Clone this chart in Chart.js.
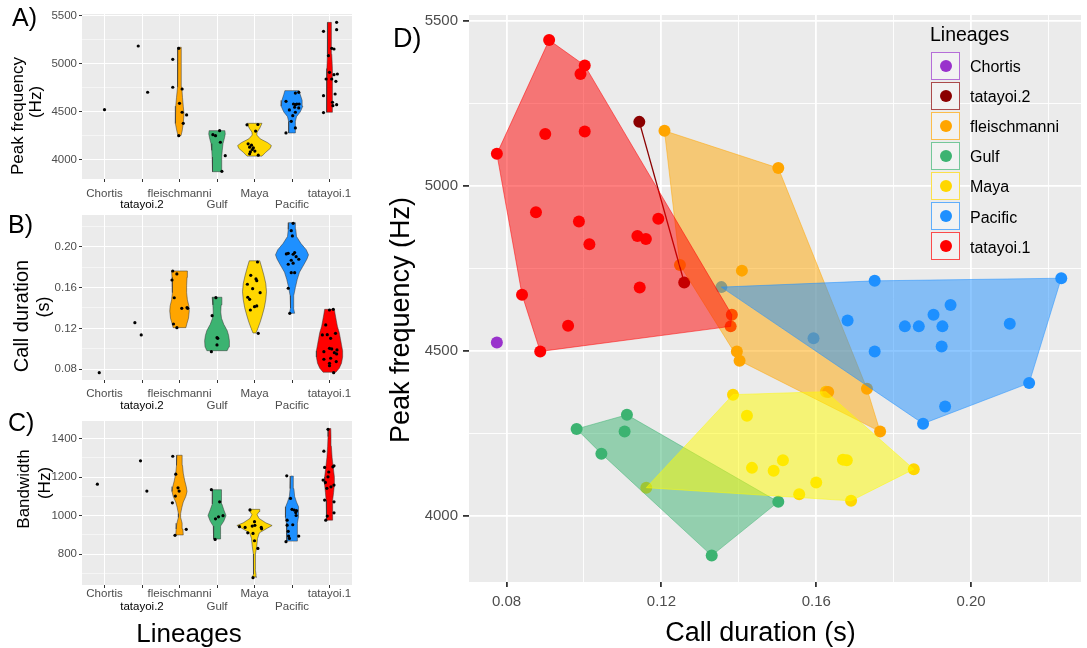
<!DOCTYPE html>
<html>
<head>
<meta charset="utf-8">
<title>Lineages – call traits</title>
<script src="https://cdn.jsdelivr.net/npm/chart.js@4.4.1/dist/chart.umd.min.js"></script>
<style>
  body { margin: 0; background: #fff; font-family: 'Liberation Sans', Arial, sans-serif; }
  #page { position: relative; width: 1087px; height: 648px; overflow: hidden; }
  canvas { position: absolute; }
  .t { position: absolute; line-height: 1; white-space: nowrap; color: #000; }
  .r { transform: translate(-50%, -50%) rotate(-90deg); }
  .c { transform: translate(-50%, -50%); }
  .key { position: absolute; box-sizing: border-box; width: 29px; height: 28px; background: #F2F2F2; border: 1.3px solid; }
  .key span { position: absolute; left: 50%; top: 50%; width: 12px; height: 12px; margin: -6px 0 0 -6px; border-radius: 50%; }
</style>
</head>
<body>
<div id="page">
  <canvas id="peakChart" width="360" height="212" style="left:0;top:0"></canvas>
  <canvas id="durChart" width="360" height="212" style="left:0;top:200px"></canvas>
  <canvas id="bwChart" width="360" height="215" style="left:0;top:400px"></canvas>
  <canvas id="scatterChart" width="717" height="648" style="left:370px;top:0"></canvas>

  <div class="t" style="left:12px;top:5px;font-size:25px">A)</div>
  <div class="t" style="left:8px;top:212px;font-size:25px">B)</div>
  <div class="t" style="left:8px;top:410px;font-size:25px">C)</div>
  <div class="t" style="left:393px;top:25px;font-size:27px">D)</div>

  <div class="t r" style="left:17px;top:116px;font-size:17px">Peak frequency</div>
  <div class="t r" style="left:34.5px;top:102px;font-size:17px">(Hz)</div>
  <div class="t r" style="left:20.5px;top:316px;font-size:20px">Call duration</div>
  <div class="t r" style="left:42.5px;top:307px;font-size:18px">(s)</div>
  <div class="t r" style="left:22.5px;top:489px;font-size:17px">Bandwidth</div>
  <div class="t r" style="left:44px;top:482.5px;font-size:17px">(Hz)</div>
  <div class="t c" style="left:189px;top:633px;font-size:26px">Lineages</div>

  <div class="t r" style="left:400px;top:320px;font-size:27px">Peak frequency (Hz)</div>
  <div class="t c" style="left:760.5px;top:632px;font-size:27px">Call duration (s)</div>

  <div id="legend"></div>
</div>

<script>
  'use strict';

  Chart.defaults.font.family = "'Liberation Sans', Arial, sans-serif";

  const LINEAGES = ['Chortis', 'tatayoi.2', 'fleischmanni', 'Gulf', 'Maya', 'Pacific', 'tatayoi.1'];
  const COLORS = ['#9932CC', '#8B0000', '#FFA500', '#3CB371', '#FFD700', '#1E90FF', '#FF0000'];
  const HULL_FILLS = [
    'rgba(153,50,204,0.5)', 'rgba(139,0,0,0.5)', 'rgba(255,165,0,0.5)', 'rgba(60,179,113,0.5)',
    'rgba(255,252,0,0.5)', 'rgba(30,144,255,0.5)', 'rgba(255,0,0,0.5)',
  ];

  // ===== A) Peak frequency (Hz) =====
  const PEAK_MAJOR = [4000, 4500, 5000, 5500];
  const PEAK_MINOR = [4250, 4750, 5250];

  // violin outlines: [value, half width in category units]
  const peakViolins = {
    fleischmanni: [[4253, 0.04], [4300, 0.07], [4380, 0.10], [4480, 0.12], [4560, 0.10], [4650, 0.08], [4760, 0.06], [4900, 0.05], [5050, 0.045], [5172, 0.045]],
    Gulf: [[3878, 0.12], [3950, 0.12], [4030, 0.13], [4100, 0.14], [4170, 0.16], [4230, 0.2], [4270, 0.22], [4305, 0.21]],
    Maya: [[4040, 0.2], [4080, 0.3], [4120, 0.42], [4150, 0.45], [4180, 0.35], [4220, 0.15], [4260, 0.06], [4290, 0.07], [4330, 0.14], [4381, 0.2]],
    Pacific: [[4281, 0.09], [4330, 0.09], [4400, 0.09], [4450, 0.12], [4500, 0.22], [4560, 0.29], [4620, 0.27], [4680, 0.22], [4721, 0.19]],
    'tatayoi.1': [[4496, 0.07], [4600, 0.08], [4750, 0.08], [4850, 0.08], [4950, 0.07], [5100, 0.06], [5250, 0.05], [5431, 0.05]],
  };

  // jittered points: [offset from category, value]
  const peakPoints = {
    Chortis: [[0, 4523]],
    'tatayoi.2': [[-0.1, 5185], [0.15, 4704]],
    fleischmanni: [[-0.18, 5047], [-0.02, 5161], [-0.18, 4756], [0.07, 4738], [0, 4589], [0.07, 4496], [0.19, 4468], [0.1, 4381], [-0.02, 4253]],
    Gulf: [[-0.11, 4263], [-0.04, 4253], [0.07, 4305], [0.09, 4184], [0.22, 4045], [0.13, 3882]],
    Maya: [[-0.2, 4365], [0.09, 4369], [0.03, 4300], [-0.17, 4168], [-0.08, 4154], [-0.13, 4133], [-0.03, 4126], [-0.06, 4109], [0.01, 4092], [-0.11, 4085], [-0.13, 4064], [0.1, 4050]],
    Pacific: [[0.09, 4696], [0.18, 4703], [-0.16, 4610], [0.04, 4582], [0.09, 4575], [0.13, 4582], [0.19, 4582], [0.07, 4548], [-0.07, 4520], [0.18, 4541], [0.09, 4496], [0.02, 4461], [-0.02, 4402], [0.09, 4333], [-0.16, 4281]],
    'tatayoi.1': [[0.19, 5431], [-0.16, 5338], [0.19, 5355], [0.06, 5161], [0.12, 5154], [-0.03, 5085], [0, 4911], [0.12, 4887], [0.21, 4894], [-0.09, 4842], [0.06, 4842], [0.17, 4818], [-0.16, 4669], [0.15, 4686], [0.19, 4575], [0.08, 4600], [0.09, 4565], [-0.16, 4493]],
  };

  // ===== B) Call duration (s) =====
  const DUR_MAJOR = [0.08, 0.12, 0.16, 0.20];
  const DUR_MINOR = [0.10, 0.14, 0.18, 0.22];

  const durViolins = {
    fleischmanni: [[0.1207, 0.17], [0.125, 0.2], [0.13, 0.24], [0.137, 0.26], [0.142, 0.25], [0.148, 0.21], [0.155, 0.19], [0.162, 0.19], [0.17, 0.2], [0.1762, 0.21]],
    Gulf: [[0.0982, 0.27], [0.102, 0.32], [0.108, 0.33], [0.113, 0.31], [0.118, 0.27], [0.124, 0.18], [0.13, 0.12], [0.136, 0.1], [0.143, 0.11], [0.1505, 0.13]],
    Maya: [[0.1155, 0.04], [0.12, 0.09], [0.126, 0.15], [0.132, 0.2], [0.14, 0.26], [0.148, 0.3], [0.156, 0.32], [0.164, 0.3], [0.172, 0.25], [0.18, 0.19], [0.1862, 0.14]],
    Pacific: [[0.1348, 0.07], [0.14, 0.04], [0.146, 0.04], [0.152, 0.05], [0.16, 0.09], [0.168, 0.14], [0.175, 0.2], [0.182, 0.31], [0.188, 0.4], [0.192, 0.44], [0.197, 0.38], [0.203, 0.24], [0.21, 0.12], [0.217, 0.1], [0.2235, 0.09]],
    'tatayoi.1': [[0.0771, 0.17], [0.081, 0.26], [0.086, 0.32], [0.092, 0.35], [0.098, 0.35], [0.104, 0.32], [0.11, 0.29], [0.116, 0.26], [0.122, 0.21], [0.128, 0.18], [0.134, 0.15], [0.1387, 0.13]],
  };

  const durPoints = {
    Chortis: [[-0.14, 0.0767]],
    'tatayoi.2': [[-0.19, 0.1256], [-0.02, 0.1136]],
    fleischmanni: [[-0.18, 0.1762], [-0.07, 0.1733], [-0.2, 0.1674], [-0.14, 0.150], [0.06, 0.1397], [0.2, 0.1403], [0.22, 0.1397], [-0.16, 0.1243], [-0.07, 0.1207]],
    Gulf: [[-0.03, 0.1501], [-0.13, 0.1325], [0, 0.1109], [0.02, 0.1103], [0, 0.1038], [-0.15, 0.0972]],
    Maya: [[0.08, 0.185], [-0.1, 0.172], [0.04, 0.1684], [0.06, 0.1667], [-0.19, 0.1632], [-0.05, 0.1589], [-0.18, 0.1505], [-0.13, 0.1485], [0.15, 0.155], [0.06, 0.142], [0, 0.1413], [-0.11, 0.138], [0.1, 0.1152]],
    Pacific: [[0.03, 0.2229], [-0.02, 0.2157], [0.01, 0.2105], [-0.15, 0.1929], [-0.1, 0.1935], [0.03, 0.1926], [0.07, 0.1942], [0.11, 0.1902], [0.18, 0.1877], [-0.02, 0.1867], [-0.1, 0.1828], [0.03, 0.1838], [-0.02, 0.1745], [0.07, 0.1745], [-0.1, 0.1593], [-0.06, 0.1348]],
    'tatayoi.1': [[0, 0.138], [0.1, 0.1387], [-0.1, 0.1234], [-0.19, 0.1136], [-0.06, 0.1139], [0.16, 0.1152], [0.03, 0.1103], [0, 0.1005], [0.06, 0.0999], [0.2, 0.0989], [0.13, 0.0962], [-0.15, 0.0972], [0.19, 0.095], [-0.15, 0.0898], [0.03, 0.0908], [0.18, 0.0875], [0, 0.0859], [0, 0.0835], [0.11, 0.0767]],
  };

  // ===== C) Bandwidth (Hz) =====
  const BW_MAJOR = [800, 1000, 1200, 1400];
  const BW_MINOR = [700, 900, 1100, 1300];

  const bwViolins = {
    fleischmanni: [[899, 0.1], [930, 0.09], [960, 0.07], [990, 0.03], [1010, 0.03], [1040, 0.06], [1070, 0.1], [1100, 0.17], [1125, 0.2], [1150, 0.18], [1180, 0.14], [1220, 0.1], [1260, 0.08], [1313, 0.07]],
    Gulf: [[878, 0.09], [910, 0.09], [945, 0.1], [970, 0.18], [1000, 0.24], [1030, 0.18], [1060, 0.13], [1100, 0.12], [1134, 0.12]],
    Maya: [[680, 0.06], [695, 0.04], [720, 0.02], [760, 0.02], [800, 0.03], [840, 0.06], [880, 0.08], [910, 0.13], [935, 0.35], [948, 0.47], [962, 0.3], [985, 0.12], [1005, 0.07], [1020, 0.12], [1032, 0.14]],
    Pacific: [[867, 0.14], [900, 0.14], [930, 0.14], [960, 0.15], [990, 0.17], [1020, 0.18], [1045, 0.17], [1070, 0.12], [1100, 0.07], [1140, 0.05], [1205, 0.035]],
    'tatayoi.1': [[976, 0.08], [1000, 0.08], [1040, 0.08], [1080, 0.09], [1120, 0.11], [1160, 0.13], [1200, 0.13], [1250, 0.1], [1300, 0.07], [1360, 0.05], [1410, 0.04], [1452, 0.035]],
  };

  const bwPoints = {
    Chortis: [[-0.19, 1163]],
    'tatayoi.2': [[-0.04, 1284], [0.13, 1127]],
    fleischmanni: [[-0.18, 1308], [-0.1, 1215], [-0.04, 1144], [-0.01, 1127], [-0.11, 1101], [-0.19, 1066], [0.18, 928], [-0.12, 897]],
    Gulf: [[-0.15, 1134], [0.07, 1071], [0.16, 999], [0.04, 993], [-0.04, 983], [-0.05, 876]],
    Maya: [[-0.12, 1029], [0, 968], [-0.4, 942], [-0.25, 938], [-0.06, 945], [0.01, 949], [0.18, 938], [0.19, 931], [-0.18, 910], [-0.04, 907], [0, 869], [0.09, 829], [-0.04, 677]],
    Pacific: [[-0.14, 1206], [-0.04, 1089], [0, 1032], [0.06, 1028], [0.12, 1025], [0.1, 1015], [-0.13, 976], [0.02, 952], [-0.13, 950], [0.18, 893], [-0.09, 893], [-0.07, 881], [-0.16, 864], [0.11, 1000], [-0.1, 918]],
    'tatayoi.1': [[-0.04, 1448], [-0.15, 1334], [-0.13, 1250], [0.09, 1253], [0.12, 1258], [-0.04, 1201], [-0.17, 1184], [-0.11, 1172], [0.12, 1158], [-0.07, 1141], [-0.13, 1080], [0.12, 1071], [0.12, 1014], [-0.06, 997], [-0.1, 976], [-0.02, 1226], [0.04, 1149]],
  };

  // ===== D) Call duration vs peak frequency =====
  const DX_MAJOR = [0.08, 0.12, 0.16, 0.20];
  const DX_MINOR = [0.10, 0.14, 0.18, 0.22];
  const DY_MAJOR = [4000, 4500, 5000, 5500];
  const DY_MINOR = [4250, 4750, 5250];

  // [call duration, peak frequency]
  const scatterPoints = {
    Chortis: [[0.0775, 4525]],
    'tatayoi.2': [[0.1143, 5194], [0.1259, 4707]],
    fleischmanni: [[0.1208, 5167], [0.1502, 5054], [0.1408, 4743], [0.1248, 4760], [0.1395, 4498], [0.1402, 4470], [0.1631, 4375], [0.1731, 4385], [0.1765, 4255]],
    Gulf: [[0.0981, 4263], [0.1111, 4306], [0.1105, 4255], [0.1045, 4188], [0.1502, 4042], [0.133, 3879]],
    Maya: [[0.1161, 4085], [0.1385, 4367], [0.1421, 4303], [0.1434, 4145], [0.149, 4136], [0.1514, 4168], [0.1556, 4065], [0.16, 4101], [0.1669, 4170], [0.1679, 4168], [0.169, 4045], [0.1852, 4141], [0.1625, 4376]],
    Pacific: [[0.1355, 4693], [0.1751, 4712], [0.2233, 4720], [0.1947, 4639], [0.1903, 4609], [0.1829, 4574], [0.1865, 4574], [0.1926, 4574], [0.1924, 4513], [0.21, 4582], [0.1751, 4498], [0.215, 4402], [0.1933, 4331], [0.1876, 4279], [0.1593, 4538], [0.1681, 4592]],
    'tatayoi.1': [[0.091, 5442], [0.1002, 5365], [0.0991, 5339], [0.0775, 5097], [0.090, 5157], [0.1002, 5165], [0.0876, 4920], [0.0987, 4892], [0.1014, 4823], [0.1138, 4848], [0.116, 4839], [0.1192, 4900], [0.084, 4670], [0.1144, 4692], [0.0959, 4576], [0.0887, 4498], [0.1382, 4609], [0.1379, 4574]],
  };

  // ===== helpers =====

  const panelBg = {
    id: 'panelBg',
    beforeDraw(chart) {
      const a = chart.chartArea;
      const ctx = chart.ctx;
      ctx.save();
      ctx.fillStyle = '#EBEBEB';
      ctx.fillRect(a.left, a.top, a.right - a.left, a.bottom - a.top);
      ctx.restore();
    },
  };

  function tickList(major, minor) {
    return major.map((v) => ({ value: v, major: true }))
      .concat(minor.map((v) => ({ value: v, major: false })))
      .sort((a, b) => a.value - b.value);
  }

  function isMajor(ctx) {
    return !!(ctx.tick && ctx.tick.major);
  }

  // closed outline of a violin: up the right side, down the left side
  function violinOutline(idx, profile) {
    const right = profile.map(([v, hw]) => ({ x: idx + hw, y: v }));
    const left = profile.slice().reverse().map(([v, hw]) => ({ x: idx - hw, y: v }));
    const pts = right.concat(left);
    pts.push(pts[0]);
    return pts;
  }

  function convexHull(points) {
    const p = points.slice().sort((a, b) => a[0] - b[0] || a[1] - b[1]);
    const cross = (o, a, b) => (a[0] - o[0]) * (b[1] - o[1]) - (a[1] - o[1]) * (b[0] - o[0]);
    const lower = [];
    const upper = [];
    p.forEach((q) => {
      while (lower.length >= 2 && cross(lower[lower.length - 2], lower[lower.length - 1], q) <= 0) lower.pop();
      lower.push(q);
    });
    for (let i = p.length - 1; i >= 0; i--) {
      const q = p[i];
      while (upper.length >= 2 && cross(upper[upper.length - 2], upper[upper.length - 1], q) <= 0) upper.pop();
      upper.push(q);
    }
    lower.pop();
    upper.pop();
    return lower.concat(upper);
  }

  // ===== violin panels =====

  function violinChart(id, violins, points, axis) {
    const datasets = [];
    LINEAGES.forEach((name, i) => {
      const profile = violins[name];
      if (!profile) return;
      datasets.push({
        data: violinOutline(i, profile),
        showLine: true,
        fill: 'shape',
        backgroundColor: COLORS[i],
        borderColor: '#333333',
        borderWidth: 0.5,
        pointRadius: 0,
        tension: 0,
        order: 2,
      });
    });
    LINEAGES.forEach((name, i) => {
      datasets.push({
        data: points[name].map(([dx, v]) => ({ x: i + dx, y: v })),
        pointRadius: 1.6,
        backgroundColor: '#000000',
        borderWidth: 0,
        order: 1,
      });
    });

    new Chart(document.getElementById(id), {
      type: 'scatter',
      data: { datasets },
      options: {
        responsive: false,
        animation: false,
        events: [],
        layout: { padding: { top: axis.padTop, right: 8, left: 0, bottom: 0 } },
        plugins: { legend: { display: false }, tooltip: { enabled: false } },
        scales: {
          x: {
            type: 'linear',
            min: -0.6,
            max: 6.6,
            afterBuildTicks: (s) => { s.ticks = LINEAGES.map((n, i) => ({ value: i })); },
            afterFit: (s) => { s.height = axis.xHeight; },
            border: { display: false },
            grid: { color: '#FFFFFF', lineWidth: 1, tickColor: '#333333', tickLength: 3 },
            ticks: {
              autoSkip: false,
              maxRotation: 0,
              padding: axis.labelPad,
              font: { size: 11.5, lineHeight: axis.lineHeight },
              color: (c) => (c.index === 1 ? '#000000' : '#4D4D4D'),
              callback: (v) => {
                const i = Math.round(v);
                return i % 2 === 0 ? [LINEAGES[i], ''] : ['', LINEAGES[i]];
              },
            },
          },
          y: {
            min: axis.min,
            max: axis.max,
            afterBuildTicks: (s) => { s.ticks = tickList(axis.major, axis.minor); },
            afterFit: (s) => { s.width = 82; },
            border: { display: false },
            grid: {
              color: '#FFFFFF',
              lineWidth: (c) => (isMajor(c) ? 1 : 0.5),
              tickColor: (c) => (isMajor(c) ? '#333333' : 'rgba(0,0,0,0)'),
              tickLength: 3,
            },
            ticks: {
              padding: 2,
              font: { size: 11.5 },
              color: '#4D4D4D',
              callback: (v, i, t) => (t[i].major ? axis.fmt(v) : ''),
            },
          },
        },
      },
      plugins: [panelBg],
    });
  }

  violinChart('peakChart', peakViolins, peakPoints, {
    min: 3802, max: 5518, major: PEAK_MAJOR, minor: PEAK_MINOR, fmt: (v) => String(v),
    padTop: 14, xHeight: 33, labelPad: 6.5, lineHeight: 0.97,
  });
  violinChart('durChart', durViolins, durPoints, {
    min: 0.0695, max: 0.231, major: DUR_MAJOR, minor: DUR_MINOR, fmt: (v) => v.toFixed(2),
    padTop: 15, xHeight: 32, labelPad: 5.5, lineHeight: 1.0,
  });
  violinChart('bwChart', bwViolins, bwPoints, {
    min: 639, max: 1491, major: BW_MAJOR, minor: BW_MINOR, fmt: (v) => String(v),
    padTop: 21, xHeight: 30, labelPad: -1, lineHeight: 1.15,
  });

  // ===== scatter with convex hulls =====

  (function renderScatter() {
    const datasets = [];
    LINEAGES.forEach((name, i) => {
      const pts = scatterPoints[name];
      // points sit underneath the translucent hulls
      datasets.push({
        data: pts.map(([x, y]) => ({ x, y })),
        pointRadius: 6,
        backgroundColor: COLORS[i],
        borderWidth: 0,
        order: name === 'fleischmanni' ? 10 : 20 - i,
      });
      if (pts.length === 2) {
        datasets.push({
          data: pts.map(([x, y]) => ({ x, y })),
          showLine: true,
          fill: false,
          borderColor: COLORS[i],
          borderWidth: 1.3,
          pointRadius: 0,
          order: 6 - i,
        });
      } else if (pts.length > 2) {
        const hull = convexHull(pts).map(([x, y]) => ({ x, y }));
        hull.push(hull[0]);
        datasets.push({
          data: hull,
          showLine: true,
          fill: 'shape',
          backgroundColor: HULL_FILLS[i],
          borderColor: HULL_FILLS[i],
          borderWidth: 1,
          pointRadius: 0,
          tension: 0,
          order: 6 - i,
        });
      }
    });

    new Chart(document.getElementById('scatterChart'), {
      type: 'scatter',
      data: { datasets },
      options: {
        responsive: false,
        animation: false,
        events: [],
        layout: { padding: { top: 15, right: 1, left: 0, bottom: 0 } },
        plugins: { legend: { display: false }, tooltip: { enabled: false } },
        scales: {
          x: {
            type: 'linear',
            min: 0.0703,
            max: 0.2284,
            afterBuildTicks: (s) => { s.ticks = tickList(DX_MAJOR, DX_MINOR); },
            afterFit: (s) => { s.height = 66; },
            border: { display: false },
            grid: {
              color: '#FFFFFF',
              lineWidth: (c) => (isMajor(c) ? 1.8 : 0.9),
              tickColor: (c) => (isMajor(c) ? '#333333' : 'rgba(0,0,0,0)'),
              tickLength: 5,
            },
            ticks: {
              autoSkip: false,
              maxRotation: 0,
              padding: 6,
              font: { size: 15 },
              color: '#4D4D4D',
              callback: (v, i, t) => (t[i].major ? v.toFixed(2) : ''),
            },
          },
          y: {
            min: 3799,
            max: 5518,
            afterBuildTicks: (s) => { s.ticks = tickList(DY_MAJOR, DY_MINOR); },
            afterFit: (s) => { s.width = 99; },
            border: { display: false },
            grid: {
              color: '#FFFFFF',
              lineWidth: (c) => (isMajor(c) ? 1.8 : 0.9),
              tickColor: (c) => (isMajor(c) ? '#333333' : 'rgba(0,0,0,0)'),
              tickLength: 6,
            },
            ticks: {
              padding: 5,
              font: { size: 15 },
              color: '#4D4D4D',
              callback: (v, i, t) => (t[i].major ? String(v) : ''),
            },
          },
        },
      },
      plugins: [panelBg],
    });
  })();

  // ===== legend =====

  (function renderLegend() {
    const box = document.getElementById('legend');
    let html = '<div class="t" style="left:930px;top:24.5px;font-size:19.5px">Lineages</div>';
    LINEAGES.forEach((name, i) => {
      const top = 51.7 + 30.1 * i;
      const mid = top + 14;
      html += `<div class="key" style="left:931px;top:${top}px;border-color:${COLORS[i]}B0"><span style="background:${COLORS[i]}"></span></div>`;
      html += `<div class="t" style="left:970px;top:${mid + 1 - 7.7}px;font-size:16px">${name}</div>`;
    });
    box.innerHTML = html;
  })();
</script>
</body>
</html>
